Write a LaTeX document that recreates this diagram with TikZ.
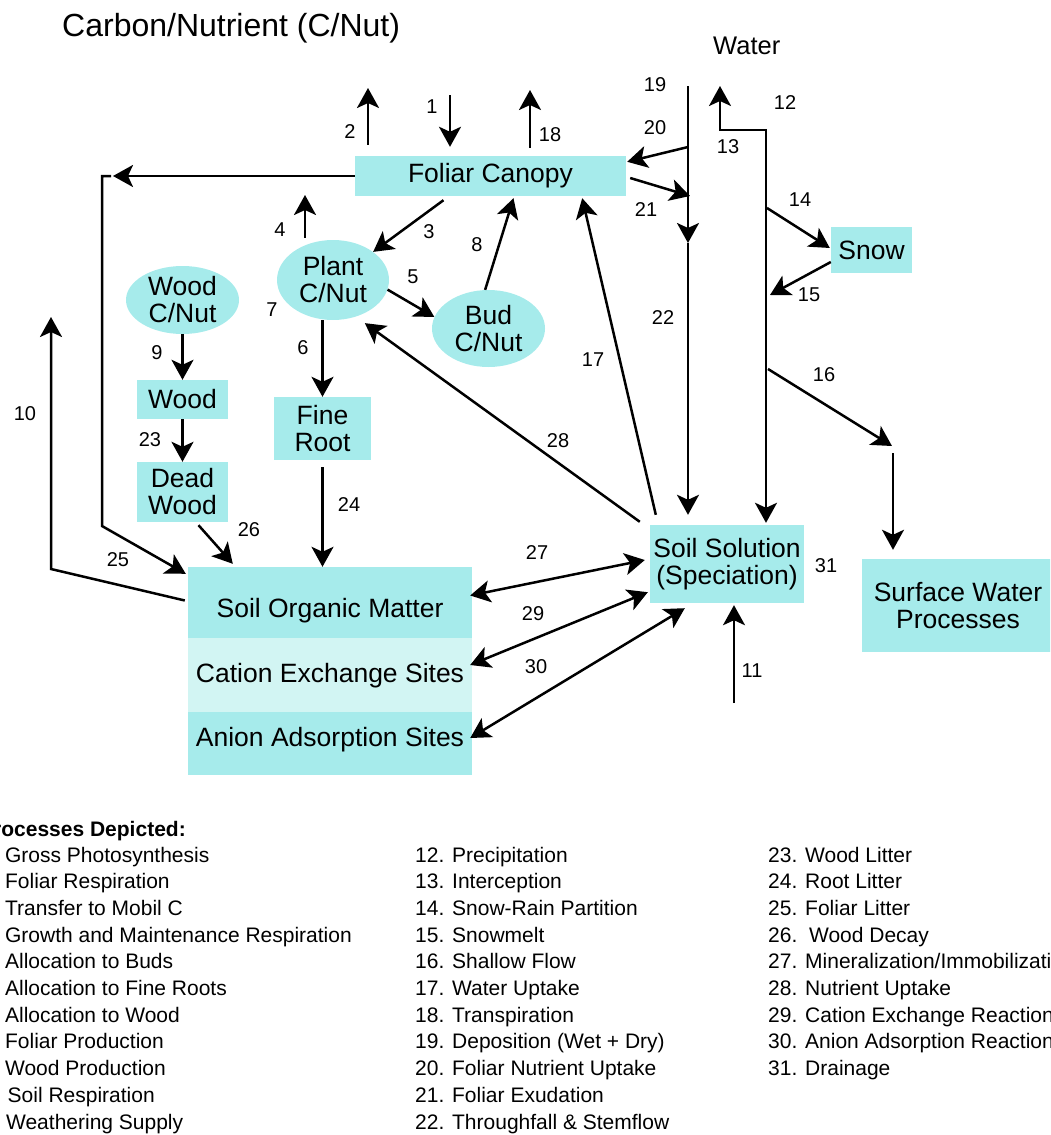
\documentclass[tikz,border=0pt]{standalone}
\usepackage{fontspec}
\setmainfont{Liberation Sans}
\usetikzlibrary{arrows.meta,shapes.geometric,calc}
\definecolor{boxcyan}{RGB}{166,235,235}
\definecolor{boxpale}{RGB}{210,245,243}
\begin{document}
\begin{tikzpicture}[x=1pt,y=-1pt,
  bigtip/.tip={Stealth[length=20pt,width=22pt,inset=5pt]},
  stock/.style={font=\fontsize{26.5}{27}\selectfont, fill=boxcyan, inner sep=0pt, align=center},
  pool/.style={stock, ellipse, inner sep=-8pt},
  flow/.style={line width=2.5pt, arrows={-bigtip}},
  both/.style={line width=2.5pt, arrows={bigtip-bigtip}},
  num/.style={font=\fontsize{20}{20}\selectfont, inner sep=0pt},
  item/.style={font=\fontsize{21}{21}\selectfont, anchor=base west, inner sep=0pt}]
\useasboundingbox (0,0) rectangle (1050,1135);
\clip (0,0) rectangle (1050,1135);

% headings
\node[anchor=base west, inner sep=0pt, font=\fontsize{32}{32}\selectfont] (title) at (62,36) {Carbon/Nutrient (C/Nut)};
\node[anchor=base west, inner sep=0pt, font=\fontsize{25.5}{25.5}\selectfont] (water) at (713,54) {Water};

% stocks and pools
\node[stock, minimum width=271, minimum height=40] (fol) at (490.5,176) {Foliar Canopy};
\node[pool, minimum width=112, minimum height=80] (plant) at (333,280) {Plant\\C/Nut};
\node[pool, minimum width=113, minimum height=68] (wcn) at (182.5,300) {Wood\\C/Nut};
\node[pool, minimum width=113, minimum height=77] (bud) at (488.5,328.5) {Bud\\C/Nut};
\node[stock, minimum width=91, minimum height=39] (wood) at (182.5,399.5) {Wood};
\node[stock, minimum width=91, minimum height=60] (dw) at (182.5,492) {Dead\\Wood};
\node[stock, minimum width=97, minimum height=63] (fr) at (322.5,428.5) {Fine\\Root};
\node[stock, minimum width=81, minimum height=46] (snow) at (871.5,250) {Snow};
\node[stock, minimum width=154, minimum height=78] (ss) at (727,564) {Soil Solution\\(Speciation)};
\node[stock, minimum width=192, minimum height=93] (sw) at (958,605.5) {Surface Water\\Processes};
\node[stock, minimum width=284, minimum height=71, text height=30pt, text depth=0pt] (som) at (330,602.5) {Soil Organic Matter};
\node[stock, fill=boxpale, minimum width=284, minimum height=74, text height=19pt, text depth=4pt] (cat) at (330,675) {Cation Exchange Sites};
\node[stock, minimum width=284, minimum height=63, text height=19pt, text depth=13pt] (an) at (330,743.5) {Anion Adsorption Sites};

% free ends of flows
\coordinate (o2) at (368,88);
\coordinate (i1) at (450,95);
\coordinate (o18) at (530,90);
\coordinate (lit) at (113,176);
\coordinate (k0) at (111,176);
\coordinate (k1) at (102,176);
\coordinate (k2) at (102,526);
\coordinate (k10) at (51,569);
\coordinate (o10) at (51,317);
\coordinate (o4) at (305,195);
\coordinate (dep) at (688,86);
\coordinate (depmid) at (688,243);
\coordinate (pr) at (720,86);
\coordinate (pra) at (720,130);
\coordinate (prb) at (766,130);
\coordinate (c20) at (688,147);
\coordinate (c21) at (690,196);
\coordinate (c14) at (767,208);
\coordinate (c15) at (770,295);
\coordinate (c16a) at (768,369);
\coordinate (c16b) at (892,446);
\coordinate (c16c) at (893,453);
\coordinate (wx) at (734,703);

% carbon / nutrient flows
\draw[flow, shorten <=11pt] (fol.north -| o2) -- (o2);
\draw[flow, shorten >=9pt] (i1) -- (i1 |- fol.north);
\draw[flow, shorten <=8pt] (fol.north -| o18) -- (o18);
\draw[flow] (fol.west) -- (lit);
\draw[flow] (k0) -- (k1) -- (k2) -- ($(som.north west)+(-2,7)$);
\draw[flow] ($(som.west)+(-3,-2)$) -- (k10) -- (o10);
\draw[flow, shorten <=2pt] (plant.north -| o4) -- (o4);
\draw[flow] ($(fol.south)+(-47,4)$) -- (plant.35);
\draw[flow] (plant.-10) -- (bud.168);
\draw[flow] (bud.95) -- ($(fol.south)+(23,2)$);
\draw[flow] (plant.south -| fr.north) -- (fr.north);
\draw[flow] (wcn.south) -- (wood.north);
\draw[flow] (wood.south) -- (dw.north);
\draw[flow] ($(dw.south)+(16,3)$) -- ($(som.north west)+(45,-3)$);
\draw[flow, shorten <=7pt] (fr.south) -- (fr.south |- som.north);
\draw[flow, shorten >=11pt] ($(ss.north west)+(-10,-3)$) -- (plant.-58);
\draw[flow] ($(ss.north west)+(6,-10)$) -- ($(fol.south east)+(-44,2)$);
\draw[both] ($(som.east)+(-2,-7)$) -- ($(ss.west)+(-5,-4)$);
\draw[both] ($(cat.east)+(-2,-10)$) -- ($(ss.south west)+(-2,-11)$);
\draw[both] ($(an.east)+(-2,-5.5)$) -- ($(ss.south west)+(35,5)$);
\draw[flow, shorten >=2pt] (wx) -- (wx |- ss.south);

% water flows
\draw[flow] (dep) -- (depmid);
\draw[flow, shorten >=10pt] (depmid) -- (depmid |- ss.north);
\draw[flow] (c20) -- ($(fol.north east)+(1,6)$);
\draw[flow] ($(fol.east)+(4,2)$) -- (c21);
\draw[both, shorten <=2pt] (ss.north -| prb) -- (prb) -- (pra) -- (pr);
\draw[flow] (c14) -- ($(snow.west)+(-1,-2)$);
\draw[flow] ($(snow.west)+(0,12)$) -- (c15);
\draw[flow] (c16a) -- (c16b);
\draw[flow, shorten >=9pt] (c16c) -- (c16c |- sw.north);

% process numbers
\node[num] (n1) at (432,107) {1};
\node[num] (n2) at (350,132) {2};
\node[num] (n3) at (429,232) {3};
\node[num] (n4) at (280,230) {4};
\node[num] (n5) at (413,277) {5};
\node[num] (n6) at (303,348) {6};
\node[num] (n7) at (272,310) {7};
\node[num] (n8) at (477,245) {8};
\node[num] (n9) at (157,353) {9};
\node[num] (n10) at (25,414) {10};
\node[num] (n11) at (752,671) {11};
\node[num] (n12) at (785,103) {12};
\node[num] (n13) at (728,147) {13};
\node[num] (n14) at (800,200) {14};
\node[num] (n15) at (809,295) {15};
\node[num] (n16) at (824,375) {16};
\node[num] (n17) at (593,360) {17};
\node[num] (n18) at (550,135) {18};
\node[num] (n19) at (655,85) {19};
\node[num] (n20) at (655,128) {20};
\node[num] (n21) at (646,210) {21};
\node[num] (n22) at (663,318) {22};
\node[num] (n23) at (150,440) {23};
\node[num] (n24) at (349,505) {24};
\node[num] (n25) at (118,560) {25};
\node[num] (n26) at (249,530) {26};
\node[num] (n27) at (537,553) {27};
\node[num] (n28) at (558,441) {28};
\node[num] (n29) at (533,614) {29};
\node[num] (n30) at (536,667) {30};
\node[num] (n31) at (826,566) {31};

% list of processes
\node[item, font=\bfseries\fontsize{21}{21}\selectfont] (hdr) at (-21,836) {Processes Depicted:};
\foreach \t [count=\i from 0] in {1. Gross Photosynthesis, 2. Foliar Respiration, 3. Transfer to Mobil C,
  4. Growth and Maintenance Respiration, 5. Allocation to Buds, 6. Allocation to Fine Roots,
  7. Allocation to Wood, 8. Foliar Production, 9. Wood Production}
  \node[item] (pa\i) at (-20.4,862+26.7*\i) {\t};
\node[item] (pa9) at (-29.5,862+26.7*9) {10. Soil Respiration};
\node[item] (pa10) at (-29.5,862+26.7*10) {11. Weathering Supply};
\foreach \t [count=\i from 0] in {12. Precipitation, 13. Interception, 14. Snow-Rain Partition,
  15. Snowmelt, 16. Shallow Flow, 17. Water Uptake, 18. Transpiration, 19. Deposition (Wet + Dry),
  20. Foliar Nutrient Uptake, 21. Foliar Exudation, 22. Throughfall \& Stemflow}
  \node[item] (pb\i) at (415,862+26.7*\i) {\t};
\foreach \t [count=\i from 0] in {23. Wood Litter, 24. Root Litter, 25. Foliar Litter,
  26.\ \ Wood Decay, 27. Mineralization/Immobilization, 28. Nutrient Uptake,
  29. Cation Exchange Reactions, 30. Anion Adsorption Reactions, 31. Drainage}
  \node[item] (pc\i) at (768,862+26.7*\i) {\t};
\end{tikzpicture}
\end{document}
